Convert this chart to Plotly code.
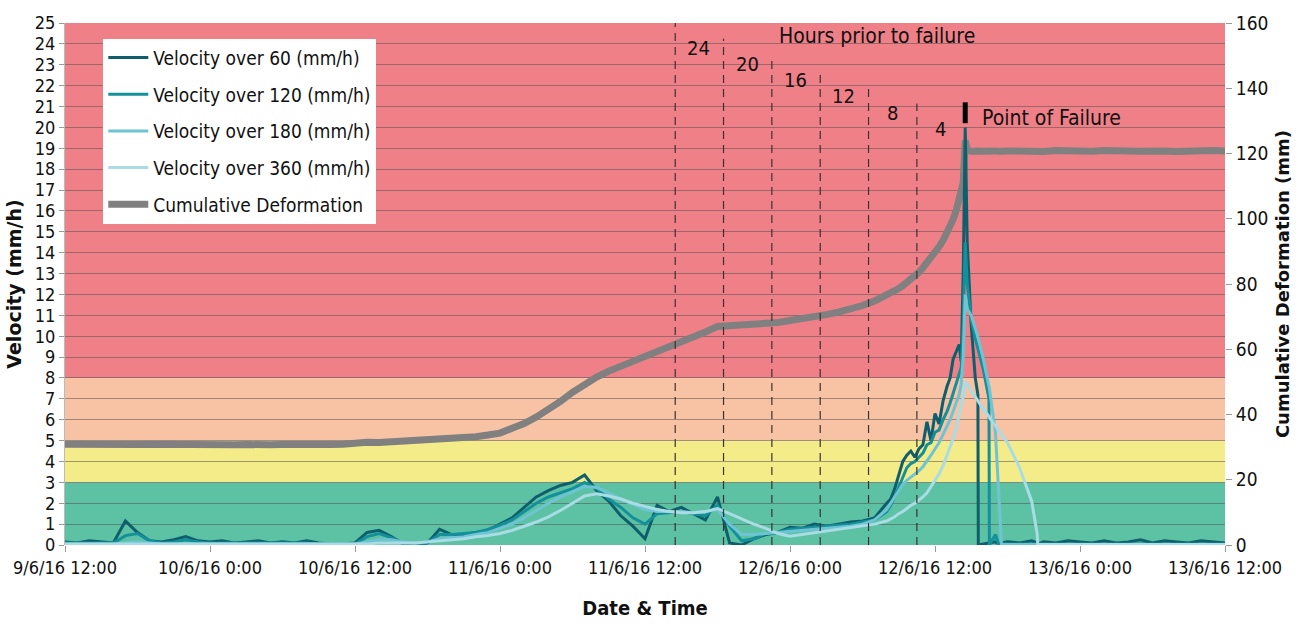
import pandas as pd
import plotly.graph_objects as go

# ---------------- data ----------------
hourly_times = pd.date_range("2016-06-09 12:00", "2016-06-12 08:00", freq="h").strftime("%Y-%m-%d %H:%M").tolist()
fine_times = ["2016-06-12 " + t for t in [
    "08:20", "08:40", "09:00", "09:20", "09:40", "10:00", "10:20", "10:40", "11:00", "11:20", "11:40",
    "12:00", "12:20", "12:40", "13:00", "13:15", "13:30", "13:45", "14:00", "14:10", "14:20", "14:30"]]
after_times = ["2016-06-12 " + t for t in [
    "14:40", "15:00", "15:20", "15:33", "15:35", "16:00", "16:28", "16:30", "17:00", "17:15",
    "17:28", "17:30", "18:00", "19:00", "20:00", "20:28", "20:30", "21:00", "22:00", "23:00"]]
last_times = pd.date_range("2016-06-13 00:00", "2016-06-13 12:00", freq="h").strftime("%Y-%m-%d %H:%M").tolist()
times = hourly_times + fine_times + after_times + last_times

vel_60 = [
    0.15, 0.10, 0.20, 0.15, 0.10, 1.15, 0.60, 0.20, 0.15, 0.25, 0.40, 0.20,
    0.15, 0.20, 0.10, 0.15, 0.20, 0.10, 0.15, 0.10, 0.20, 0.10, 0.05, 0.05,
    0.10, 0.60, 0.70, 0.40, 0.05, 0.00, 0.10, 0.75, 0.50, 0.50, 0.60, 0.70,
    1.00, 1.30, 1.80, 2.30, 2.60, 2.85, 3.00, 3.35, 2.60, 2.10, 1.40, 0.90,
    0.30, 1.90, 1.60, 1.80, 1.50, 1.20, 2.30, 0.10, 0.00, 0.30, 0.50, 0.60,
    0.85, 0.80, 1.00, 0.90, 1.00, 1.10, 1.15, 1.30, 2.00,
    2.20, 2.70, 3.30, 4.00, 4.30, 4.50, 4.20, 4.60, 4.80, 5.90, 5.00,
    6.30, 5.80, 6.90, 7.60, 8.00, 8.90, 9.30, 9.60, 8.80, 13.00, 20.00,
    14.50, 10.50, 8.00, 7.20, 0.00, 0.05, 0.10, 0.10, 0.15, 0.05,
    0.10, 0.10, 0.15, 0.10, 0.20, 0.10, 0.05, 0.15, 0.10, 0.20,
    0.15, 0.10, 0.20, 0.10, 0.15, 0.25, 0.10, 0.20, 0.15, 0.10, 0.20, 0.15, 0.10]

vel_120 = [
    0.10, 0.10, 0.10, 0.10, 0.10, 0.45, 0.55, 0.20, 0.10, 0.15, 0.25, 0.15,
    0.10, 0.10, 0.10, 0.10, 0.10, 0.10, 0.10, 0.10, 0.10, 0.05, 0.05, 0.05,
    0.05, 0.40, 0.55, 0.35, 0.10, 0.05, 0.10, 0.50, 0.50, 0.55, 0.60, 0.75,
    0.95, 1.20, 1.60, 2.00, 2.30, 2.50, 2.70, 3.00, 2.70, 2.20, 1.80, 1.30,
    1.00, 1.50, 1.55, 1.60, 1.50, 1.40, 1.90, 0.90, 0.20, 0.30, 0.55, 0.60,
    0.75, 0.80, 0.85, 0.90, 0.95, 1.00, 1.10, 1.20, 1.60,
    1.90, 2.30, 2.80, 3.30, 3.70, 3.90, 4.00, 4.20, 4.40, 4.80, 4.90,
    5.40, 5.50, 6.00, 6.40, 6.80, 7.30, 7.70, 8.20, 8.50, 10.50, 14.50,
    12.50, 10.80, 9.90, 9.40, 9.30, 8.40, 7.00, 0.00, 0.50, 0.05,
    0.05, 0.05, 0.05, 0.05, 0.05, 0.05, 0.05, 0.05, 0.05, 0.05,
    0.05, 0.05, 0.05, 0.05, 0.05, 0.05, 0.05, 0.05, 0.05, 0.05, 0.05, 0.05, 0.05]

vel_180 = [
    0.05, 0.05, 0.05, 0.05, 0.05, 0.10, 0.15, 0.10, 0.05, 0.05, 0.05, 0.05,
    0.05, 0.05, 0.05, 0.05, 0.05, 0.05, 0.05, 0.05, 0.05, 0.05, 0.05, 0.05,
    0.05, 0.15, 0.25, 0.25, 0.15, 0.10, 0.15, 0.30, 0.35, 0.40, 0.50, 0.60,
    0.80, 1.00, 1.30, 1.65, 2.00, 2.30, 2.55, 2.80, 2.75, 2.50, 2.20, 1.95,
    1.70, 1.60, 1.60, 1.60, 1.55, 1.60, 1.70, 1.00, 0.50, 0.50, 0.55, 0.60,
    0.65, 0.70, 0.75, 0.80, 0.85, 0.90, 1.00, 1.20, 1.70,
    2.00, 2.30, 2.60, 2.90, 3.10, 3.25, 3.40, 3.55, 3.75, 4.00, 4.30,
    4.60, 4.90, 5.30, 5.70, 6.00, 6.40, 6.80, 7.20, 7.70, 9.00, 12.00,
    11.30, 11.00, 10.40, 10.00, 9.90, 8.90, 7.60, 7.50, 5.40, 2.50,
    0.30, 0.02, 0.02, 0.02, 0.02, 0.02, 0.02, 0.02, 0.02, 0.02,
    0.02, 0.02, 0.02, 0.02, 0.02, 0.02, 0.02, 0.02, 0.02, 0.02, 0.02, 0.02, 0.02]

vel_360 = [
    0.05, 0.05, 0.05, 0.05, 0.05, 0.05, 0.05, 0.05, 0.05, 0.05, 0.05, 0.05,
    0.05, 0.05, 0.05, 0.05, 0.05, 0.05, 0.05, 0.05, 0.05, 0.05, 0.05, 0.05,
    0.05, 0.05, 0.10, 0.10, 0.10, 0.10, 0.15, 0.20, 0.25, 0.30, 0.40, 0.45,
    0.55, 0.70, 0.90, 1.10, 1.35, 1.65, 2.00, 2.35, 2.45, 2.35, 2.20, 2.00,
    1.85, 1.70, 1.60, 1.55, 1.55, 1.60, 1.75, 1.50, 1.25, 1.00, 0.80, 0.55,
    0.42, 0.50, 0.58, 0.68, 0.76, 0.84, 0.92, 1.00, 1.15,
    1.25, 1.35, 1.50, 1.60, 1.75, 1.90, 2.00, 2.15, 2.30, 2.50, 2.80,
    3.10, 3.40, 3.80, 4.30, 4.70, 5.10, 5.60, 6.20, 6.60, 7.10, 7.80,
    7.70, 7.40, 7.10, 6.90, 6.90, 6.50, 6.15, 6.10, 5.70, 5.50,
    5.30, 5.25, 4.90, 3.70, 2.10, 0.50, 0.02, 0.02, 0.02, 0.02,
    0.02, 0.02, 0.02, 0.02, 0.02, 0.02, 0.02, 0.02, 0.02, 0.02, 0.02, 0.02, 0.02]

cum_def = [
    30.9, 30.8, 30.9, 30.8, 30.9, 30.5, 30.8, 30.9, 30.8, 30.9, 30.8, 30.9,
    30.9, 30.8, 30.7, 30.8, 30.6, 30.7, 30.8, 30.7, 30.8, 30.9, 30.8, 30.9,
    31.4, 31.5, 31.4, 31.6, 31.6, 31.8, 32.0, 32.2, 32.5, 32.8, 33.2, 33.7,
    34.3, 35.8, 37.2, 39.2, 41.5, 44.0, 46.8, 49.3, 51.5, 53.3, 54.8, 56.0,
    57.5, 58.8, 60.3, 62.0, 63.8, 65.3, 67.0, 67.2, 67.4, 67.6, 67.9, 68.2,
    68.8, 69.3, 69.9, 70.6, 71.4, 72.3, 73.4, 74.8, 76.5,
    77.1, 77.8, 78.6, 79.5, 80.4, 81.4, 82.4, 83.6, 85.0, 86.4, 87.9,
    89.6, 91.4, 93.4, 95.6, 97.4, 99.8, 102.5, 105.5, 107.5, 111.0, 124.0,
    121.0, 120.7, 120.9, 120.6, 120.8, 120.7, 120.9, 120.6, 120.8, 120.7,
    120.9, 120.7, 120.8, 120.6, 120.9, 120.7, 120.8, 120.6, 120.9, 120.7,
    120.8, 120.7, 120.9, 120.6, 120.8, 120.7, 120.9, 120.8, 120.6, 120.8, 120.7, 120.9, 120.8]

series_names = ["Velocity over 60 (mm/h)", "Velocity over 120 (mm/h)",
                "Velocity over 180 (mm/h)", "Velocity over 360 (mm/h)"]
series_values = [vel_60, vel_120, vel_180, vel_360]

failure_time = "2016-06-12 14:30"
failure_marker_v = [20.2, 21.2]
hours_prior = [24, 20, 16, 12, 8, 4]
dash_tops = [25.0, 24.25, 23.45, 22.65, 21.9, 21.15]
label_levels = [23.8, 23.05, 22.25, 21.5, 20.7, 19.9]

band_edges = [0, 3, 5, 8, 25]
band_colors = ["#5DC2A4", "#F3EC88", "#F8C3A4", "#F08087"]

tick_times = pd.date_range("2016-06-09 12:00", "2016-06-13 12:00", freq="12h")
tick_labels = ["9/6/16 12:00", "10/6/16 0:00", "10/6/16 12:00", "11/6/16 0:00", "11/6/16 12:00",
               "12/6/16 0:00", "12/6/16 12:00", "13/6/16 0:00", "13/6/16 12:00"]

# ---------------- styles ----------------
line_colors = ["#0E5F6B", "#14909B", "#6FC4D4", "#A9DCE5"]
NARROW = "Liberation Sans Narrow, DejaVu Sans Condensed, Arial Narrow, sans-serif"
WIDE_BOLD = "DejaVu Sans, Verdana, sans-serif"

for arr in series_values + [cum_def]:
    assert len(arr) == len(times), (len(arr), len(times))

fig = go.Figure()

for i, (name, vals) in enumerate(zip(series_names, series_values)):
    fig.add_trace(go.Scatter(x=times, y=vals, mode="lines", name=name, yaxis="y2",
                             line=dict(color=line_colors[i], width=3), legendgroup=f"g{i}"))

fig.add_trace(go.Scatter(x=times, y=cum_def, mode="lines", name="Cumulative Deformation",
                         yaxis="y", line=dict(color="#808080", width=7), legendgroup="g5"))

# dashed "hours prior to failure" lines
ft = pd.Timestamp(failure_time)
for hp, top, lv in zip(hours_prior, dash_tops, label_levels):
    t = ft - pd.Timedelta(hours=hp)
    fig.add_trace(go.Scatter(x=[t, t], y=[0, top], mode="lines", yaxis="y2", showlegend=False,
                             line=dict(color="#3a3232", width=1.2, dash="8px,6px"), hoverinfo="skip"))
    fig.add_annotation(x=t + pd.Timedelta(hours=1.95), y=lv, xref="x", yref="y2", text=str(hp),
                       showarrow=False, font=dict(family=NARROW, size=20, color="#111"))

# failure marker
fig.add_trace(go.Scatter(x=[ft, ft], y=failure_marker_v, mode="lines", yaxis="y2", showlegend=False,
                         line=dict(color="black", width=5), hoverinfo="skip"))

fig.add_annotation(x=ft - pd.Timedelta(hours=7.3), y=24.4, xref="x", yref="y2",
                   text="Hours prior to failure", showarrow=False,
                   font=dict(family=NARROW, size=21, color="#111"))
fig.add_annotation(x=ft + pd.Timedelta(hours=1.2), y=20.45, xref="x", yref="y2",
                   text="Point of Failure", showarrow=False, xanchor="left",
                   font=dict(family=NARROW, size=21, color="#111"))

# risk bands
for lo, hi, col in zip(band_edges[:-1], band_edges[1:], band_colors):
    fig.add_shape(type="rect", xref="paper", yref="y2", x0=0, x1=1, y0=lo, y1=hi,
                  fillcolor=col, line=dict(width=0), layer="below")

fig.update_layout(
    width=1303, height=632,
    margin=dict(l=65, r=78, t=17, b=87),
    paper_bgcolor="white", plot_bgcolor="white",
    showlegend=True,
    legend=dict(x=0.033, y=0.97, xanchor="left", yanchor="top", bgcolor="white",
                font=dict(family=NARROW, size=19, color="#111"), tracegroupgap=9,
                itemwidth=40),
    xaxis=dict(type="date", range=[tick_times[0], tick_times[-1]], tickvals=tick_times,
               ticktext=tick_labels, ticks="outside", ticklen=6, tickcolor="#999",
               showgrid=False, zeroline=False, showline=False,
               tickfont=dict(family=NARROW, size=18, color="#111"),
               title=dict(text="<b>Date & Time</b>", font=dict(family=NARROW, size=20, color="#111"),
                          standoff=24)),
    yaxis2=dict(range=[0, 25], dtick=1, side="left", overlaying="y", showgrid=True,
                gridcolor="rgba(90,80,80,0.55)", gridwidth=1, zeroline=False,
                ticks="outside", ticklen=5, tickcolor="#999", showline=True, linecolor="#bbb",
                tickfont=dict(family=NARROW, size=18, color="#111"),
                title=dict(text="<b>Velocity (mm/h)</b>",
                           font=dict(family=WIDE_BOLD, size=19, color="#111"),
                           standoff=8)),
    yaxis=dict(range=[0, 160], dtick=20, side="right", showgrid=False, zeroline=False,
               ticks="outside", ticklen=6, tickcolor="#999", showline=False,
               tickfont=dict(family=NARROW, size=19, color="#111"),
               title=dict(text="<b>Cumulative Deformation (mm)</b>",
                          font=dict(family=WIDE_BOLD, size=18, color="#111"),
                          standoff=8)),
)

fig.write_html("out.html", config={"displayModeBar": False},
               post_script="document.body.style.margin='0';")
